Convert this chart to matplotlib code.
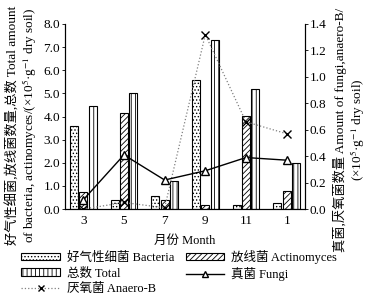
import numpy as np
import matplotlib.pyplot as plt
from matplotlib.patches import Patch
from matplotlib.lines import Line2D

plt.rcParams['font.family'] = ['Liberation Serif', 'Noto Sans CJK SC']
plt.rcParams['hatch.linewidth'] = 0.6
plt.rcParams['mathtext.fontset'] = 'stix'

months = ['3', '5', '7', '9', '11', '1']
bacteria = [3.58, 0.38, 0.55, 5.58, 0.17, 0.28]
actinomyces = [0.74, 4.16, 0.38, 0.17, 4.02, 0.80]
total = [4.45, 5.00, 1.20, 7.33, 5.18, 2.00]
fungi = [0.07, 0.41, 0.22, 0.29, 0.39, 0.37]
anaero = [0.00, 0.05, 0.01, 1.32, 0.66, 0.57]

x = np.arange(len(months))
w = 0.2

fig = plt.figure(figsize=(3.89, 3.0), dpi=100)
ax = fig.add_axes([0.167, 0.303, 0.617, 0.617])

ax.bar(x - 0.23, bacteria, w, color='white', edgecolor='black', hatch='.....', lw=0.8)
ax.bar(x, actinomyces, w, color='white', edgecolor='black', hatch='//////', lw=0.8)
ax.bar(x + 0.23, total, w, color='white', edgecolor='black', hatch='||||', lw=0.8)

ax.set_xlim(-0.45, 5.45)
ax.set_ylim(0, 8)
ax.set_yticks(np.arange(0, 8.1, 1.0))
ax.set_yticklabels(['%.1f' % v for v in np.arange(0, 8.1, 1.0)])
ax.set_xticks(x)
ax.set_xticklabels(months)
ax.tick_params(axis='both', labelsize=9.5, length=2, width=0.6, pad=1.5)
ax.tick_params(axis='x', length=0, pad=4)
ax.spines['top'].set_visible(False)
ax.set_xlabel('月份 Month', fontsize=9, labelpad=6)

ax2 = ax.twinx()
ax2.plot(x, anaero, color='gray', ls=':', lw=0.9, marker='x', ms=6,
         mec='black', mew=1.0)
ax2.plot(x, fungi, color='black', ls='-', lw=1.0, marker='^', ms=6,
         mfc='white', mec='black', mew=1.0)
ax2.set_ylim(0, 1.4)
ax2.set_yticks(np.arange(0, 1.41, 0.2))
ax2.set_yticklabels(['%.1f' % v for v in np.arange(0, 1.41, 0.2)])
ax2.tick_params(axis='y', labelsize=9.5, length=2, width=0.6, pad=1.5)
ax2.spines['top'].set_visible(False)

# axis titles placed as figure text
fig.text(22 / 389, 1 - 125 / 300,
         '好气性细菌,放线菌数量,总数 Total amount\n'
         'of bacteria, actinomyces/(×10$^{5}$·g$^{-1}$ dry soil)',
         rotation=90, ha='center', va='center', multialignment='center',
         fontsize=9.5, linespacing=1.05)
fig.text(350 / 389, 1 - 130 / 300,
         '真菌,厌氧菌数量 Amount of fungi,anaero-B/\n'
         '(×10$^{5}$·g$^{-1}$ dry soil)',
         rotation=90, ha='center', va='center', multialignment='center',
         fontsize=9.5, linespacing=1.05)

handles = [
    Patch(facecolor='white', edgecolor='black', hatch='.....', lw=0.8),
    Patch(facecolor='white', edgecolor='black', hatch='||||', lw=0.8),
    Line2D([], [], color='gray', ls=':', lw=0.9, marker='x', ms=5, mec='black'),
    Patch(facecolor='white', edgecolor='black', hatch='//////', lw=0.8),
    Line2D([], [], color='black', lw=1.0, marker='^', ms=5, mfc='white', mec='black'),
]
labels = ['好气性细菌 Bacteria', '总数 Total', '厌氧菌 Anaero-B',
          '放线菌 Actinomyces', '真菌 Fungi']
fig.legend(handles, labels, ncol=2, loc='upper left', bbox_to_anchor=(0.055, 0.168),
           frameon=False, fontsize=9, handlelength=3.1, handleheight=0.5,
           handletextpad=0.55, columnspacing=0.9, labelspacing=0.3,
           borderpad=0, borderaxespad=0)

fig.savefig('out.png', dpi=100)
